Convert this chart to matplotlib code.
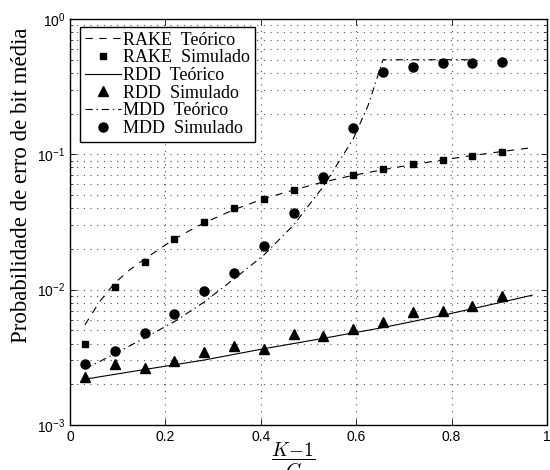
import matplotlib
matplotlib.use("Agg")
import matplotlib.pyplot as plt
from matplotlib.ticker import LogLocator, FixedLocator, NullFormatter

plt.rcParams['font.family'] = ['Liberation Sans', 'DejaVu Sans']

# ---------------- data ----------------
x_sim = [0.03125, 0.09375, 0.15625, 0.21875, 0.28125, 0.34375, 0.40625, 0.46875,
         0.53125, 0.59375, 0.65625, 0.71875, 0.78125, 0.84375, 0.90625]

rake_sim = [0.0040, 0.0104, 0.0161, 0.0235, 0.0314, 0.0399, 0.047, 0.0545,
            0.0645, 0.070, 0.078, 0.0843, 0.0912, 0.097, 0.104]
rdd_sim = [0.00225, 0.0028, 0.00263, 0.00295, 0.00346, 0.00385, 0.00366, 0.00467,
           0.00456, 0.0051, 0.0058, 0.0068, 0.0070, 0.0076, 0.0090]
mdd_sim = [0.0028, 0.00352, 0.00475, 0.0066, 0.0098, 0.0133, 0.0209, 0.0366,
           0.0684, 0.156, 0.404, 0.444, 0.47, 0.47, 0.484]

rake_th_x = [0.03125, 0.0625, 0.09375, 0.125, 0.15625, 0.1875, 0.21875, 0.28125,
             0.34375, 0.40625, 0.46875, 0.53125, 0.59375, 0.65625, 0.71875,
             0.78125, 0.84375, 0.90625, 0.96875]
rake_th = [0.0055, 0.0082, 0.0112, 0.0140, 0.0168, 0.0200, 0.0237, 0.0312,
           0.039, 0.047, 0.0545, 0.0625, 0.070, 0.077, 0.084, 0.091, 0.098,
           0.105, 0.112]

rdd_th_x = [0.03125, 0.15625, 0.28125, 0.40625, 0.53125, 0.65625, 0.78125,
            0.90625, 0.96875]
rdd_th = [0.00218, 0.00257, 0.00302, 0.00366, 0.00437, 0.00525, 0.00646,
          0.0081, 0.0091]

mdd_th_x = [0.03125, 0.09375, 0.15625, 0.21875, 0.28125, 0.34375, 0.40625,
            0.46875, 0.53125, 0.59375, 0.625, 0.65625, 0.71875, 0.78125, 0.84375]
mdd_th = [0.0026, 0.00335, 0.0044, 0.0058, 0.0081, 0.012, 0.018, 0.030,
          0.058, 0.13, 0.23, 0.5, 0.5, 0.5, 0.5]

x_ticks = [0, 0.2, 0.4, 0.6, 0.8, 1]
labels = ['RAKE  Teórico', 'RAKE  Simulado', 'RDD  Teórico', 'RDD  Simulado',
          'MDD  Teórico', 'MDD  Simulado']

# ---------------- figure ----------------
fig = plt.figure(figsize=(5.5, 4.7), dpi=100)
ax = fig.add_axes([70/550, 45/470, 477/550, 406/470])

lw = 0.8
h1, = ax.plot(rake_th_x, rake_th, color='k', lw=lw, linestyle=(0, (6.5, 6)))
h2, = ax.plot(x_sim, rake_sim, 's', color='k', ms=5, linestyle='none')
h3, = ax.plot(rdd_th_x, rdd_th, color='k', lw=lw, linestyle='-')
h4, = ax.plot(x_sim, rdd_sim, '^', color='k', ms=6.5, linestyle='none')
h5, = ax.plot(mdd_th_x, mdd_th, color='k', lw=lw, linestyle=(0, (6.5, 3.5, 1.2, 3.5)))
h6, = ax.plot(x_sim, mdd_sim, 'o', color='k', ms=6.5, linestyle='none')

ax.set_yscale('log')
ax.set_xlim(0, 1)
ax.set_ylim(1e-3, 1)
ax.xaxis.set_major_locator(FixedLocator(x_ticks))
ax.set_xticklabels([('%g' % t) for t in x_ticks])
ax.yaxis.set_major_locator(LogLocator(base=10, numticks=10))
ax.yaxis.set_minor_locator(LogLocator(base=10, subs=range(2, 10), numticks=20))
ax.yaxis.set_minor_formatter(NullFormatter())

ax.tick_params(which='both', direction='in', top=True, right=True, labelsize=10)
ax.tick_params(which='major', length=4, width=0.6)
ax.tick_params(which='minor', length=2, width=0.5)

grid_style = dict(color='0.3', linestyle=(0, (1, 5)), linewidth=0.8)
ax.xaxis.grid(True, which='major', **grid_style)
ax.yaxis.grid(True, which='both', **grid_style)
ax.set_axisbelow(True)
for s in ax.spines.values():
    s.set_linewidth(1.0)

leg = ax.legend([h1, h2, h3, h4, h5, h6], labels, loc='upper left',
                bbox_to_anchor=(10/477, 1 - 8/406), borderaxespad=0,
                prop={'family': 'Liberation Serif', 'size': 13},
                frameon=True, fancybox=False, edgecolor='k', framealpha=1,
                handlelength=2.0, handletextpad=0.15, labelspacing=0.04,
                borderpad=0.25)
leg.get_frame().set_linewidth(1.0)

fig.text(22/550, 1 - 185/470, 'Probabilidade de erro de bit média',
         rotation=90, ha='center', va='center', family='Liberation Serif',
         fontsize=16.5)
fig.text(293/550, 1 - 441/470, r'$\dfrac{K\!-\!1}{G}$', ha='center', va='top',
         fontsize=14, math_fontfamily='cm')

fig.savefig('out.png', dpi=100)
